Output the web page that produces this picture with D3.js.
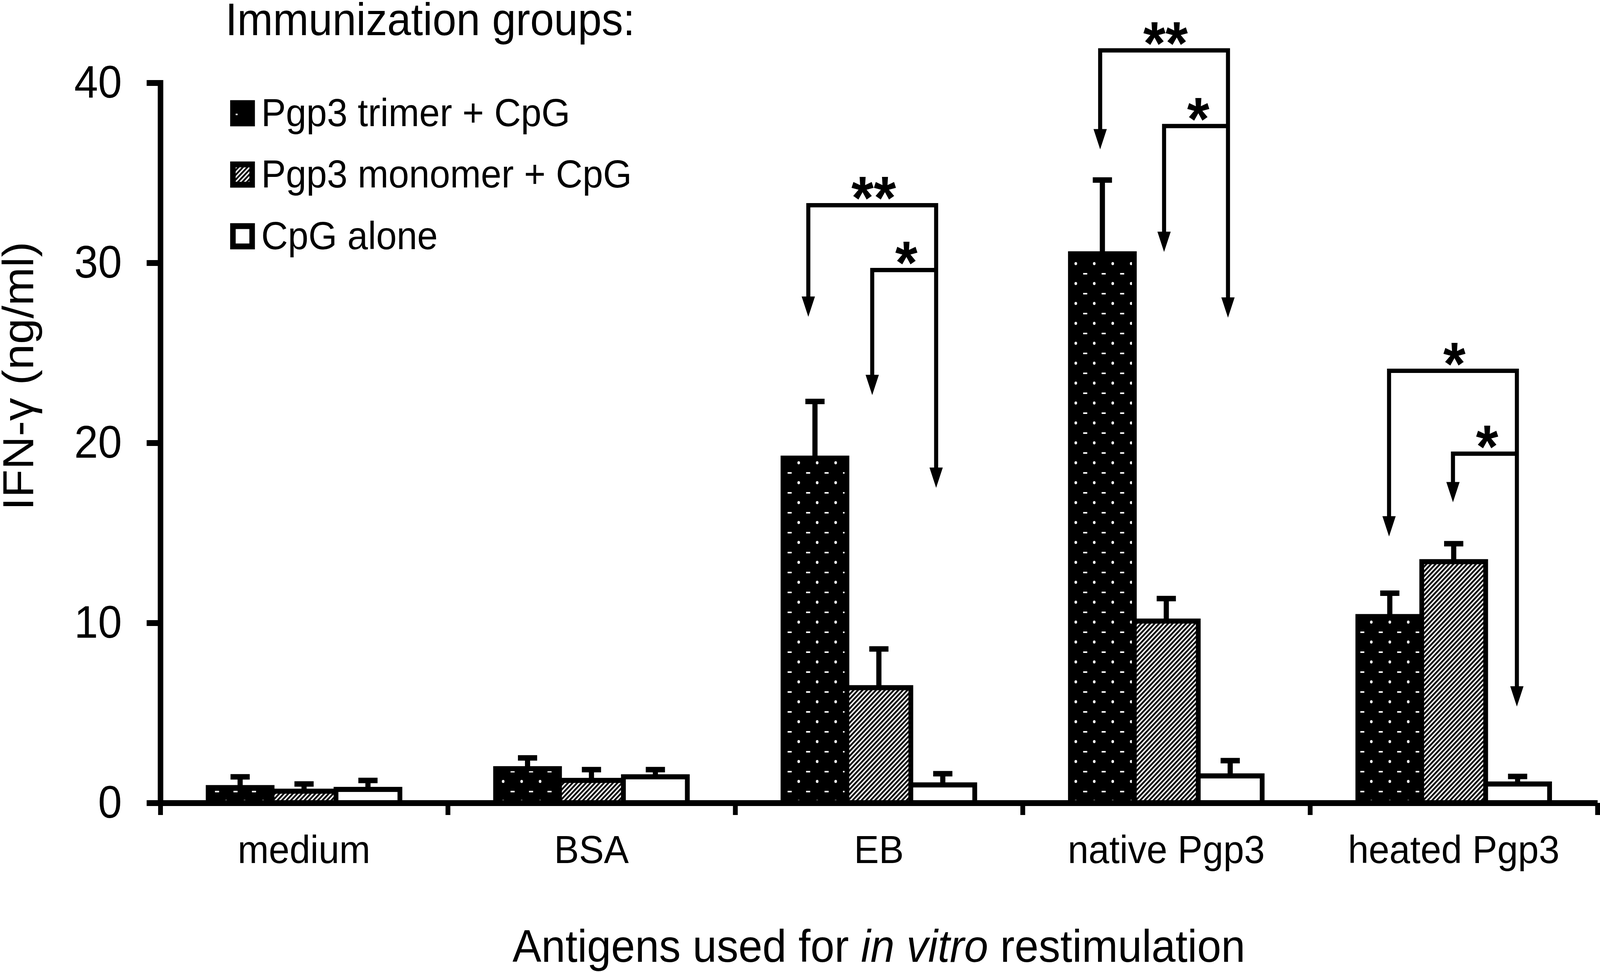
<!DOCTYPE html>
<html>
<head>
<meta charset="utf-8">
<script src="https://cdn.jsdelivr.net/npm/d3@7"></script>
<style>
  html, body { margin: 0; padding: 0; background: #fff; overflow: hidden; width: 100%; height: 100%; }
  svg { display: block; width: 100vw; height: 100vh; }
  text { font-family: "Liberation Sans", Arial, Helvetica, sans-serif; fill: #000; }
</style>
</head>
<body>
<svg id="chart" viewBox="0 0 4331 2489" preserveAspectRatio="none"></svg>
<script>
// ---------------- data ----------------
const categories = ["medium", "BSA", "EB", "native Pgp3", "heated Pgp3"];
const seriesNames = ["Pgp3 trimer + CpG", "Pgp3 monomer + CpG", "CpG alone"];
const trimerMean  = [0.85, 1.9, 19.15, 30.5, 10.35];
const trimerSD    = [0.6, 0.6, 3.15, 4.1, 1.3];
const monomerMean = [0.65, 1.25, 6.4, 10.1, 13.4];
const monomerSD   = [0.4, 0.6, 2.15, 1.25, 1.0];
const cpgMean     = [0.75, 1.45, 1.0, 1.5, 1.05];
const cpgSD       = [0.5, 0.4, 0.62, 0.85, 0.42];
const yTicks = [0, 10, 20, 30, 40];
const yTitle = "IFN-γ (ng/ml)";
const legendTitle = "Immunization groups:";

// significance annotations (values in ng/ml on the y scale)
const sigCategories  = ["EB", "native Pgp3", "heated Pgp3"];
const sigOuterLabel  = ["**", "**", "*"];
const sigInnerLabel  = ["*", "*", "*"];
const sigOuterLevel  = [33.2, 41.8, 24.0];
const sigInnerLevel  = [29.6, 37.6, 19.4];
const sigTrimerTip   = [27.0, 36.3, 14.8];
const sigMonomerTip  = [22.65, 30.6, 16.7];
const sigCpgTip      = [17.5, 26.95, 5.35];

// ---------------- layout ----------------
const W = 4331, H = 2489;
const axisX0 = 434, axisX1 = 4324, axisY0 = 2056, axisY40 = 212;
const svg = d3.select("#chart");
const defs = svg.append("defs");

// patterns
const pDots = defs.append("pattern").attr("id", "dots")
  .attr("patternUnits", "userSpaceOnUse").attr("width", 50).attr("height", 51);
pDots.append("rect").attr("width", 50).attr("height", 51).attr("fill", "#000");
pDots.append("ellipse").attr("cx", 12).attr("cy", 12).attr("rx", 3.5).attr("ry", 4).attr("fill", "#fff");
pDots.append("rect").attr("x", 32).attr("y", 36).attr("width", 11).attr("height", 4).attr("fill", "#fff");

const pHatch = defs.append("pattern").attr("id", "hatch")
  .attr("patternUnits", "userSpaceOnUse").attr("width", 8.6).attr("height", 8.6)
  .attr("patternTransform", "rotate(45)");
pHatch.append("rect").attr("width", 8.6).attr("height", 8.6).attr("fill", "#fff");
pHatch.append("rect").attr("width", 4.6).attr("height", 8.6).attr("fill", "#000");

const fills = ["url(#dots)", "url(#hatch)", "#fff"];
const means = [trimerMean, monomerMean, cpgMean];
const sds = [trimerSD, monomerSD, cpgSD];

// scales
const x = d3.scaleBand().domain(categories).range([axisX0, axisX1]).paddingInner(0).paddingOuter(0);
const groupW = 519;
const xs = d3.scaleBand().domain(d3.range(seriesNames.length)).range([0, groupW]).padding(0);
const y = d3.scaleLinear().domain([0, 40]).range([axisY0, axisY40]);
const groupOffset = (x.step() - groupW) / 2;
const barX = (ci, si) => x(categories[ci]) + groupOffset + xs(si);
const barCenter = (ci, si) => barX(ci, si) + xs.bandwidth() / 2;

// data rows
const rows = [];
categories.forEach((c, ci) => {
  seriesNames.forEach((s, si) => {
    rows.push({ ci, si, mean: means[si][ci], sd: sds[si][ci] });
  });
});

// bars
svg.append("g").selectAll("rect").data(rows).join("rect")
  .attr("x", d => barX(d.ci, d.si))
  .attr("y", d => y(d.mean))
  .attr("width", xs.bandwidth())
  .attr("height", d => y(0) - y(d.mean))
  .attr("fill", d => fills[d.si])
  .attr("stroke", "#000")
  .attr("stroke-width", 13);

// error bars
const eg = svg.append("g").attr("stroke", "#000").attr("stroke-width", 14);
eg.selectAll("line.stem").data(rows).join("line").attr("class", "stem")
  .attr("x1", d => barCenter(d.ci, d.si)).attr("x2", d => barCenter(d.ci, d.si))
  .attr("y1", d => y(d.mean)).attr("y2", d => y(d.mean + d.sd));
eg.selectAll("line.cap").data(rows).join("line").attr("class", "cap")
  .attr("x1", d => barCenter(d.ci, d.si) - 26).attr("x2", d => barCenter(d.ci, d.si) + 26)
  .attr("y1", d => y(d.mean + d.sd)).attr("y2", d => y(d.mean + d.sd));

// y axis
const yAxis = svg.append("g").attr("transform", `translate(${axisX0},0)`)
  .call(d3.axisLeft(y).tickValues(yTicks).tickSize(37).tickSizeOuter(0).tickPadding(67));
yAxis.select(".domain").attr("stroke-width", 15).attr("stroke-linecap", "square");
yAxis.selectAll(".tick line").attr("stroke-width", 15);
yAxis.selectAll(".tick text").attr("font-size", 116).attr("font-family", null);

// x axis: line + boundary ticks
const xb = d3.scaleLinear().domain([0, categories.length]).range([axisX0, axisX1]);
const xAxis = svg.append("g").attr("transform", `translate(0,${axisY0})`)
  .call(d3.axisBottom(xb).tickValues(d3.range(categories.length + 1)).tickSize(31).tickSizeOuter(0).tickFormat(""));
xAxis.select(".domain").attr("stroke-width", 15);
xAxis.selectAll(".tick line").attr("stroke-width", 13);

// category labels
const xLab = svg.append("g").attr("transform", `translate(0,${axisY0})`)
  .call(d3.axisBottom(x).tickSize(0).tickPadding(0));
xLab.select(".domain").remove();
xLab.selectAll(".tick text").attr("font-size", 101).attr("font-family", null)
  .attr("y", 154).attr("dy", null);

// axis titles
const xt = svg.append("text").attr("x", (axisX0 + axisX1) / 2).attr("y", 2463)
  .attr("text-anchor", "middle").attr("font-size", 117);
xt.append("tspan").text("Antigens used for ");
xt.append("tspan").attr("font-style", "italic").text("in vitro");
xt.append("tspan").text(" restimulation");

svg.append("text").attr("transform", "translate(90,963) rotate(-90)")
  .attr("text-anchor", "middle").attr("font-size", 118).text(yTitle);

// legend
svg.append("text").attr("x", 610).attr("y", 90).attr("font-size", 116).text(legendTitle);
const legRowY = [323, 480, 638];
const lg = svg.append("g").selectAll("g").data(seriesNames).join("g");
lg.append("rect")
  .attr("x", 630.5).attr("y", (d, i) => legRowY[i] - 59)
  .attr("width", 52).attr("height", 52)
  .attr("fill", (d, i) => fills[i]).attr("stroke", "#000").attr("stroke-width", 15);
lg.append("text").attr("x", 707).attr("y", (d, i) => legRowY[i])
  .attr("font-size", 100).text(d => d);

// significance brackets
const sigNudge = [-18, -6, -2];
const ag = svg.append("g");
const arrowLen = 52, arrowHalf = 18;
function arrow(xp, tipVal) {
  const t = y(tipVal);
  ag.append("path").attr("d", `M${xp - arrowHalf},${t - arrowLen}L${xp + arrowHalf},${t - arrowLen}L${xp},${t}Z`)
    .attr("fill", "#000");
}
sigCategories.forEach((cat, k) => {
  const ci = categories.indexOf(cat);
  const xl = barCenter(ci, 0) + sigNudge[k];
  const xm = barCenter(ci, 1) + sigNudge[k];
  const xr = barCenter(ci, 2) + sigNudge[k];
  const lo = y(sigOuterLevel[k]), li = y(sigInnerLevel[k]);
  ag.append("path")
    .attr("d", `M${xl},${y(sigTrimerTip[k]) - arrowLen + 4}V${lo}H${xr}V${y(sigCpgTip[k]) - arrowLen + 4}`)
    .attr("fill", "none").attr("stroke", "#000").attr("stroke-width", 11).attr("stroke-linejoin", "miter");
  ag.append("path")
    .attr("d", `M${xm},${y(sigMonomerTip[k]) - arrowLen + 4}V${li}H${xr}`)
    .attr("fill", "none").attr("stroke", "#000").attr("stroke-width", 11).attr("stroke-linejoin", "miter");
  arrow(xl, sigTrimerTip[k]);
  arrow(xm, sigMonomerTip[k]);
  arrow(xr, sigCpgTip[k]);
  ag.append("text").attr("x", (xl + xr) / 2 + 4).attr("y", lo + 35)
    .attr("text-anchor", "middle").attr("font-size", 155).attr("font-weight", "bold").text(sigOuterLabel[k]);
  ag.append("text").attr("x", (xm + xr) / 2 + 6).attr("y", li + 35)
    .attr("text-anchor", "middle").attr("font-size", 155).attr("font-weight", "bold").text(sigInnerLabel[k]);
});
</script>
</body>
</html>
